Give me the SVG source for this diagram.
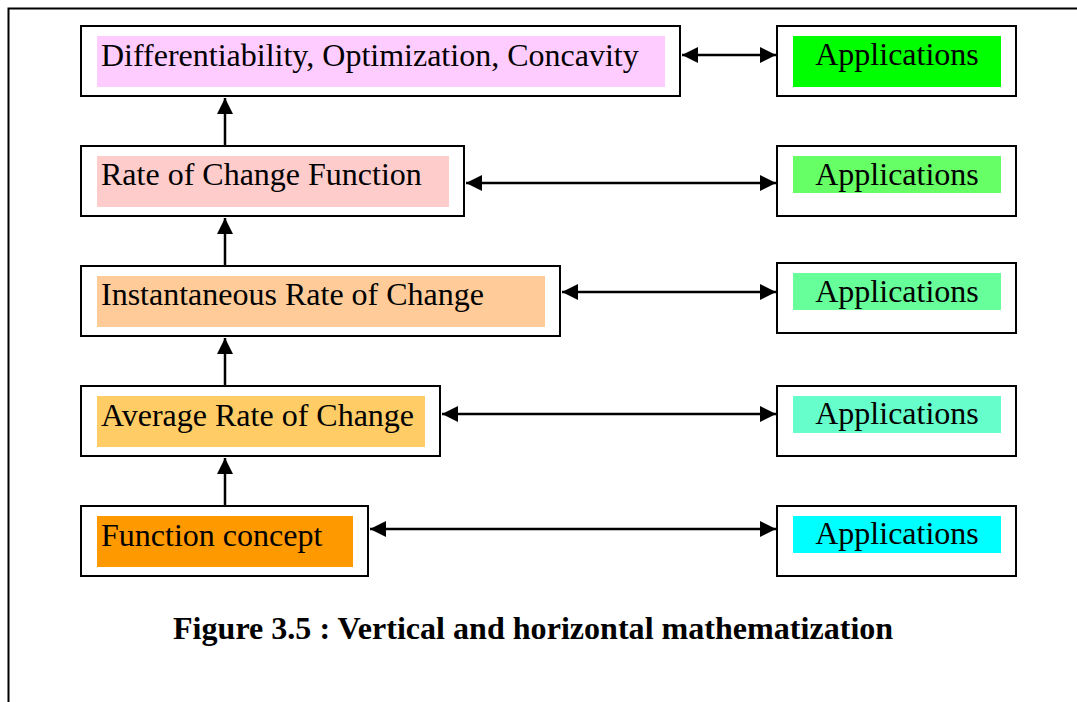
<svg xmlns="http://www.w3.org/2000/svg" width="1077" height="702" viewBox="0 0 1077 702">
<style>
.box{fill:#fff;stroke:#000;stroke-width:2}
.t{font-family:"Liberation Serif","Times New Roman",serif;font-size:32px;fill:#000}
.c{text-anchor:middle}
.cap{font-family:"Liberation Serif","Times New Roman",serif;font-size:32.1px;font-weight:bold;fill:#000}
.ln{stroke:#000;stroke-width:2.5;fill:none}
</style>
<defs>
<marker id="ah" markerUnits="userSpaceOnUse" markerWidth="16" markerHeight="16" viewBox="0 0 16 16" refX="16" refY="8" orient="auto-start-reverse">
<path d="M0,0 L16,8 L0,16 Z" fill="#000"/>
</marker>
</defs>
<rect width="1077" height="702" fill="#fff"/>
<path d="M8.5,702 V8.5 H1077" fill="none" stroke="#000" stroke-width="2"/>
<g id="connectors">
<line class="ln" x1="682" y1="55" x2="776" y2="55" marker-start="url(#ah)" marker-end="url(#ah)"/>
<line class="ln" x1="466" y1="183" x2="776" y2="183" marker-start="url(#ah)" marker-end="url(#ah)"/>
<line class="ln" x1="562" y1="292" x2="776" y2="292" marker-start="url(#ah)" marker-end="url(#ah)"/>
<line class="ln" x1="442" y1="414" x2="776" y2="414" marker-start="url(#ah)" marker-end="url(#ah)"/>
<line class="ln" x1="370" y1="529" x2="776" y2="529" marker-start="url(#ah)" marker-end="url(#ah)"/>
<line class="ln" x1="225" y1="145" x2="225" y2="98" marker-end="url(#ah)"/>
<line class="ln" x1="225" y1="265" x2="225" y2="218" marker-end="url(#ah)"/>
<line class="ln" x1="225" y1="385" x2="225" y2="338" marker-end="url(#ah)"/>
<line class="ln" x1="225" y1="505" x2="225" y2="458" marker-end="url(#ah)"/>
</g>
<g id="n1"><rect class="box" x="81" y="26" width="599" height="70"/><rect x="97" y="36" width="568" height="51" fill="#FFCCFF"/><text class="t" x="101" y="66">Differentiability, Optimization, Concavity</text></g>
<g id="n2"><rect class="box" x="81" y="146" width="383" height="70"/><rect x="97" y="156" width="352" height="51" fill="#FFCCCC"/><text class="t" x="101" y="185">Rate of Change Function</text></g>
<g id="n3"><rect class="box" x="81" y="266" width="479" height="70"/><rect x="97" y="276" width="448" height="51" fill="#FFCC99"/><text class="t" x="101" y="305">Instantaneous Rate of Change</text></g>
<g id="n4"><rect class="box" x="81" y="386" width="359" height="70"/><rect x="97" y="396" width="328" height="51" fill="#FFCC66"/><text class="t" x="101" y="426">Average Rate of Change</text></g>
<g id="n5"><rect class="box" x="81" y="506" width="287" height="70"/><rect x="97" y="516" width="256" height="51" fill="#FF9900"/><text class="t" x="101" y="546">Function concept</text></g>
<g id="a1"><rect class="box" x="777" y="26" width="239" height="70"/><rect x="793" y="36" width="208" height="51" fill="#00FF00"/><text class="t c" x="897" y="65">Applications</text></g>
<g id="a2"><rect class="box" x="777" y="146" width="239" height="70"/><rect x="793" y="156" width="208" height="37" fill="#66FF66"/><text class="t c" x="897" y="185">Applications</text></g>
<g id="a3"><rect class="box" x="777" y="263" width="239" height="70"/><rect x="793" y="273" width="208" height="37" fill="#66FF99"/><text class="t c" x="897" y="302">Applications</text></g>
<g id="a4"><rect class="box" x="777" y="386" width="239" height="70"/><rect x="793" y="396" width="208" height="37" fill="#66FFCC"/><text class="t c" x="897" y="424">Applications</text></g>
<g id="a5"><rect class="box" x="777" y="506" width="239" height="70"/><rect x="793" y="516" width="208" height="37" fill="#00FFFF"/><text class="t c" x="897" y="544">Applications</text></g>
<text class="cap" x="173" y="639">Figure 3.5 : Vertical and horizontal mathematization</text>
</svg>
